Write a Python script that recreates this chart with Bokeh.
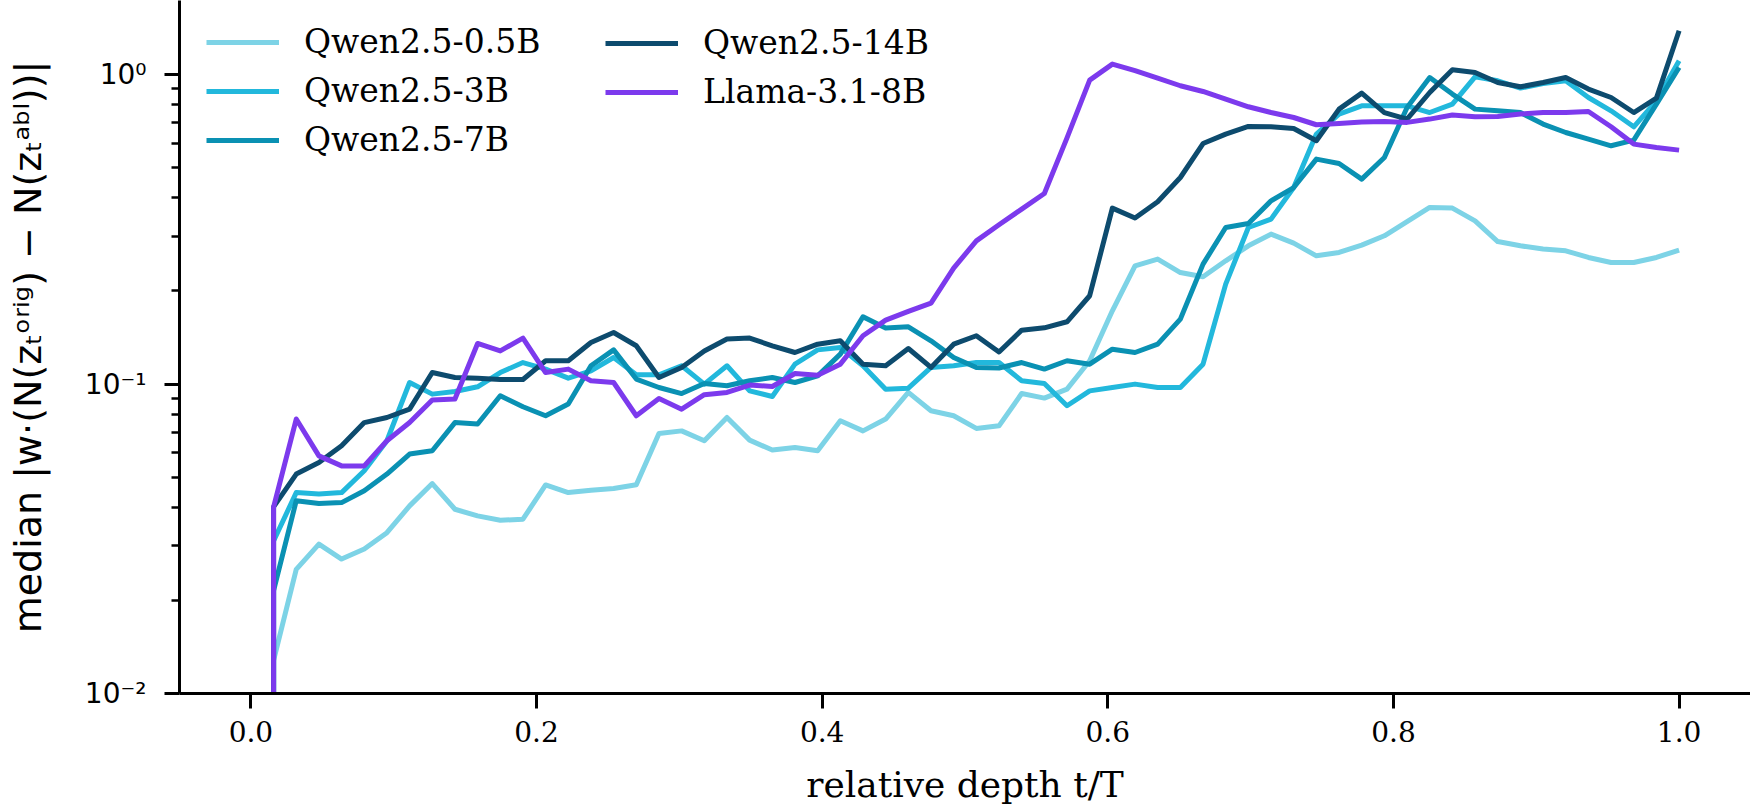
from bokeh.plotting import figure
from bokeh.models import (Range1d, FixedTicker, CustomJSTickFormatter, PrintfTickFormatter,
                          Legend, LegendItem, ColumnDataSource)
from bokeh.embed import file_html
from bokeh.resources import INLINE

# ---------------- data ----------------
num_bins = 63
layer_bin = list(range(1, 64))
relative_depth = [b / num_bins for b in layer_bin]

# value of the very first bin (falls below the visible axis range)
first_bin_floor = 1e-3

models = ["Qwen2.5-0.5B", "Qwen2.5-3B", "Qwen2.5-7B", "Qwen2.5-14B", "Llama-3.1-8B"]
colors = ["#7dd3e6", "#22b8dc", "#0a91b3", "#0d4b6e", "#7c3aed"]

qwen_0_5b = [0.0128, 0.0252, 0.0304, 0.0272, 0.0293, 0.0331, 0.0404, 0.0477, 0.0394, 0.0375,
             0.0363, 0.0366, 0.0472, 0.0446, 0.0454, 0.046, 0.0473, 0.0692, 0.0706, 0.0656,
             0.078, 0.0659, 0.0612, 0.0624, 0.0609, 0.0761, 0.0706, 0.0771, 0.094, 0.082,
             0.079, 0.0719, 0.0733, 0.0932, 0.0901, 0.0963, 0.119, 0.1725, 0.2412, 0.2535,
             0.2294, 0.2222, 0.2503, 0.2799, 0.3053, 0.2856, 0.2598, 0.2663, 0.2812, 0.3015,
             0.3353, 0.3722, 0.3705, 0.3371, 0.2889, 0.2799, 0.2731, 0.2697, 0.2566, 0.2472,
             0.2472, 0.2566, 0.271]

qwen_3b = [0.0311, 0.0446, 0.0441, 0.0446, 0.0525, 0.0656, 0.1012, 0.0928, 0.0946, 0.098,
           0.109, 0.1174, 0.1118, 0.1045, 0.1104, 0.1219, 0.1072, 0.1072, 0.1146, 0.1,
           0.1146, 0.0951, 0.0912, 0.116, 0.129, 0.1313, 0.1146, 0.0963, 0.097, 0.1132,
           0.1146, 0.1174, 0.1174, 0.1025, 0.1005, 0.0851, 0.0951, 0.0975, 0.1, 0.0975,
           0.0975, 0.116, 0.2104, 0.3207, 0.3414, 0.4318, 0.6427, 0.746, 0.7932, 0.7932,
           0.7932, 0.7546, 0.8035, 0.9845, 0.9556, 0.905, 0.9366, 0.9556, 0.8438, 0.7643,
           0.6787, 0.8233, 1.109]

qwen_7b = [0.0215, 0.042, 0.0411, 0.0414, 0.0452, 0.0512, 0.0594, 0.0609, 0.0751, 0.0743,
           0.0917, 0.0845, 0.079, 0.0862, 0.1146, 0.129, 0.1038, 0.0975, 0.0932, 0.1005,
           0.0988, 0.1025, 0.105, 0.1012, 0.1063, 0.125, 0.165, 0.1517, 0.1532, 0.138,
           0.1219, 0.1132, 0.1127, 0.1174, 0.1118, 0.119, 0.116, 0.1297, 0.1265, 0.1346,
           0.1622, 0.2442, 0.3207, 0.3304, 0.3912, 0.4318, 0.5336, 0.5164, 0.4598, 0.54,
           0.7834, 0.979, 0.8656, 0.774, 0.7643, 0.7546, 0.6924, 0.6505, 0.6193, 0.5891,
           0.6146, 0.8035, 1.055]

qwen_14b = [0.0401, 0.0512, 0.0558, 0.0632, 0.0751, 0.078, 0.083, 0.109, 0.105, 0.1045,
            0.1035, 0.1035, 0.119, 0.119, 0.1363, 0.1468, 0.133, 0.105, 0.1132, 0.128,
            0.1398, 0.1408, 0.133, 0.1265, 0.1346, 0.138, 0.116, 0.1146, 0.1303, 0.1132,
            0.1346, 0.1433, 0.127, 0.1494, 0.152, 0.159, 0.193, 0.3705, 0.344, 0.3883,
            0.4653, 0.599, 0.6427, 0.6803, 0.6787, 0.67, 0.6116, 0.774, 0.872, 0.7546,
            0.7186, 0.8759, 1.037, 1.017, 0.9436, 0.9139, 0.9436, 0.979, 0.8985, 0.8438,
            0.7546, 0.8402, 1.387]

llama_8b = [0.040, 0.0771, 0.0586, 0.0544, 0.0544, 0.0656, 0.0751, 0.0888, 0.0895, 0.1353,
            0.128, 0.1408, 0.109, 0.1118, 0.1025, 0.1012, 0.079, 0.0899, 0.083, 0.0924,
            0.094, 0.0993, 0.0982, 0.1082, 0.1069, 0.116, 0.1433, 0.161, 0.1717, 0.1827,
            0.237, 0.2904, 0.3272, 0.3678, 0.413, 0.625, 0.9605, 1.082, 1.03, 0.975,
            0.921, 0.8826, 0.834, 0.7875, 0.7546, 0.7272, 0.689, 0.6956, 0.7028, 0.706,
            0.7012, 0.7186, 0.7405, 0.731, 0.7323, 0.746, 0.7546, 0.7546, 0.7604, 0.6787,
            0.5966, 0.5816, 0.5705]

series = [qwen_0_5b, qwen_3b, qwen_7b, qwen_14b, llama_8b]

x_ticks = [0.0, 0.2, 0.4, 0.6, 0.8, 1.0]
y_ticks = [0.01, 0.1, 1.0]
y_minor_ticks = [0.02, 0.03, 0.04, 0.05, 0.06, 0.07, 0.08, 0.09,
                 0.2, 0.3, 0.4, 0.5, 0.6, 0.7, 0.8, 0.9]

x_label = "relative depth t/T"
y_label = "median |w\u00b7(N(z\u209c\u1d52\u02b3\u2071\u1d4d) \u2212 N(z\u209c\u1d43\u1d47\u02e1))|"

# ---------------- figure ----------------
p = figure(width=1750, height=809, y_axis_type="log",
           x_range=Range1d(-0.05, 1.05), y_range=Range1d(0.01, 1.737),
           output_backend="svg", toolbar_location=None,
           min_border_left=179, min_border_right=0, min_border_top=0, min_border_bottom=116)
p.outline_line_color = None
p.grid.visible = False
p.background_fill_color = "white"
p.border_fill_color = "white"

renderers = []
for name, col, vals in zip(models, colors, series):
    src = ColumnDataSource(dict(x=[relative_depth[0]] + relative_depth,
                                y=[first_bin_floor] + vals))
    r = p.line("x", "y", source=src, line_color=col, line_width=5,
               line_join="round", line_cap="butt")
    renderers.append(r)

# axes
for ax in (p.xaxis[0], p.yaxis[0]):
    ax.axis_line_width = 3
    ax.axis_line_color = "black"
    ax.major_tick_line_width = 3
    ax.major_tick_line_color = "black"
    ax.major_tick_out = 15
    ax.major_tick_in = 0
    ax.minor_tick_line_width = 2.5
    ax.minor_tick_line_color = "black"
    ax.minor_tick_out = 8
    ax.minor_tick_in = 0
    ax.major_label_text_font_size = "28px"
    ax.major_label_text_color = "black"
    ax.axis_label_text_font_style = "normal"
    ax.axis_label_text_color = "black"

p.xaxis.ticker = FixedTicker(ticks=x_ticks)
p.xaxis.formatter = PrintfTickFormatter(format="%.1f")
p.xaxis.minor_tick_line_color = None
p.xaxis.major_label_text_font = "DejaVu Serif"
p.xaxis.major_label_standoff = 12
p.xaxis.axis_label = x_label
p.xaxis.axis_label_text_font = "DejaVu Serif"
p.xaxis.axis_label_text_font_size = "36px"
p.xaxis.axis_label_standoff = 19

p.yaxis.ticker = FixedTicker(ticks=y_ticks, minor_ticks=y_minor_ticks)
p.yaxis.formatter = CustomJSTickFormatter(code="""
const e = Math.round(Math.log10(tick));
const sup = {'-': '\u207b', '0': '\u2070', '1': '\u00b9', '2': '\u00b2', '3': '\u00b3',
             '4': '\u2074', '5': '\u2075', '6': '\u2076', '7': '\u2077', '8': '\u2078', '9': '\u2079'};
return '10' + String(e).split('').map(c => sup[c]).join('');
""")
p.yaxis.major_label_text_font = "DejaVu Sans"
p.yaxis.major_label_standoff = 18
p.yaxis.axis_label = y_label
p.yaxis.axis_label_text_font = "DejaVu Sans"
p.yaxis.axis_label_text_font_size = "38px"
p.yaxis.axis_label_standoff = 32

# legends (two columns, no frame)
def make_legend(idx, loc):
    items = [LegendItem(label=models[i], renderers=[renderers[i]]) for i in idx]
    lg = Legend(items=items, location=loc, orientation="vertical",
                padding=0, margin=0, spacing=10,
                glyph_width=73, glyph_height=38, label_standoff=25,
                label_text_font="DejaVu Serif", label_text_font_size="33px",
                label_text_color="black",
                border_line_color=None, background_fill_alpha=0.0)
    return lg

p.add_layout(make_legend([0, 1, 2], (27, 534)))
p.add_layout(make_legend([3, 4], (426, 582)))

open("out.html", "w").write(file_html(p, INLINE))
